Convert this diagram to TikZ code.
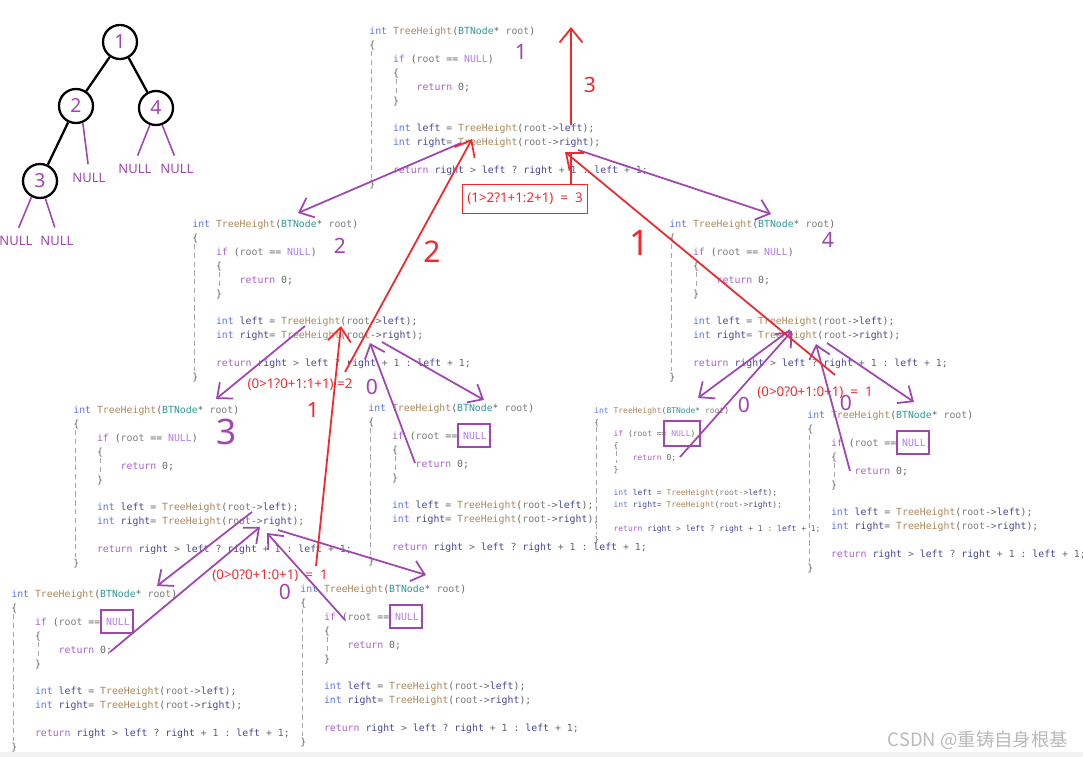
\documentclass[tikz,border=0pt]{standalone}
\usepackage{fontspec}
\setmonofont{DejaVu Sans Mono}
\newfontfamily\annfont{Noto Sans}
\newfontfamily\cjk{Noto Sans CJK SC}
\usepackage{xcolor}
\usetikzlibrary{arrows.meta,calc,positioning}

\definecolor{annpur}{RGB}{160,70,175}
\definecolor{annred}{RGB}{240,40,45}
\definecolor{kwcol}{RGB}{95,115,235}
\definecolor{fncol}{RGB}{170,135,90}
\definecolor{tycol}{RGB}{50,150,150}
\definecolor{rtcol}{RGB}{125,125,125}
\definecolor{ctlcol}{RGB}{170,95,200}
\definecolor{nullcol}{RGB}{175,125,230}
\definecolor{varcol}{RGB}{70,70,150}

% code colouring
\newcommand\cKw[1]{\textcolor{kwcol}{#1}}
\newcommand\cFn[1]{\textcolor{fncol}{#1}}
\newcommand\cTy[1]{\textcolor{tycol}{#1}}
\newcommand\cRt[1]{\textcolor{rtcol}{#1}}
\newcommand\cCtl[1]{\textcolor{ctlcol}{#1}}
\newcommand\cNull[1]{\textcolor{nullcol}{#1}}
\newcommand\cVar[1]{\textcolor{varcol}{#1}}
\newcommand\ind{\hspace*{2.408em}}
\newcommand\treecode{%
\cKw{int} \cFn{TreeHeight}(\cTy{BTNode}* \cRt{root})\\
\{\\
\ind\cCtl{if} (\cRt{root} == \cNull{NULL})\\
\ind\{\\
\ind\ind\cCtl{return} 0;\\
\ind\}\\
\mbox{}\\
\ind\cKw{int} \cVar{left} = \cFn{TreeHeight}(\cRt{root}->\cVar{left});\\
\ind\cKw{int} \cVar{right}= \cFn{TreeHeight}(\cRt{root}->\cVar{right});\\
\mbox{}\\
\ind\cCtl{return} \cVar{right} > \cVar{left} ? \cVar{right} + 1 : \cVar{left} + 1;\\
\}}

\begin{document}
\begin{tikzpicture}[
    x=0.02cm,y=-0.02cm,
    code/.style={anchor=north west,inner sep=0pt,align=left,text=black!60,
                 font=\ttfamily\fontsize{5.6}{7.9}\selectfont},
    codesmall/.style={code,font=\ttfamily\fontsize{4.55}{6.7}\selectfont},
    guide/.style={gray!70,densely dashed,line width=0.4pt},
    nullbox/.style={draw=annpur,line width=1pt},
    treenode/.style={circle,draw,line width=1.3pt,minimum size=0.68cm,inner sep=0pt,
                     text=annpur,font=\annfont\fontsize{11}{11}\selectfont},
    treeedge/.style={line width=1.3pt},
    nulltxt/.style={text=annpur,inner sep=1pt,font=\annfont\fontsize{7.4}{8}\selectfont},
    nullline/.style={annpur,line width=0.9pt,shorten >=4pt},
    callarr/.style={annpur,line width=1pt,-{Straight Barb[length=7pt,width=12pt]}},
    retarr/.style={annred,line width=1pt,-{Straight Barb[length=8pt,width=13pt]}},
    retline/.style={annred,line width=1pt},
    redtxt/.style={text=annred,inner sep=1pt,font=\annfont\fontsize{7.6}{8}\selectfont},
    redbox/.style={redtxt,draw=annred,line width=1pt,minimum width=2.5cm,minimum height=0.58cm},
    handS/.style={inner sep=0pt,font=\annfont\fontsize{12}{12}\selectfont},
    handM/.style={inner sep=0pt,font=\annfont\fontsize{17}{17}\selectfont},
    handL/.style={inner sep=0pt,font=\annfont\fontsize{20}{20}\selectfont}
]
\useasboundingbox (0,0) rectangle (1083,757);
\fill[gray!10] (0,752) rectangle (1083,757);

% the tree
\node[treenode] (n1) at (120,42) {1};
\node[treenode] (n2) at (76,106) {2};
\node[treenode] (n4) at (156,108) {4};
\node[treenode] (n3) at (40,181) {3};
\draw[treeedge] (n1) -- (n2);
\draw[treeedge] (n1) -- (n4);
\draw[treeedge] (n2) -- (n3);
\node[nulltxt] (null2r) at (89,178) {NULL};
\node[nulltxt] (null4l) at (135,169) {NULL};
\node[nulltxt] (null4r) at (177,169) {NULL};
\node[nulltxt] (null3l) at (16,241) {NULL};
\node[nulltxt] (null3r) at (57,241) {NULL};
\draw[nullline] (n2.292) -- (null2r.north);
\draw[nullline] (n4.250) -- (null4l.north);
\draw[nullline] (n4.290) -- (null4r.north);
\draw[nullline] (n3.242) -- (null3l.north);
\draw[nullline] (n3.287) -- (null3r.north);

% one code block per call
\node[code] (c1) at (369,27) {\treecode};
\node[code] (c2) at (192,220) {\treecode};
\node[code] (c4) at (669,220) {\treecode};
\node[code] (c3) at (73,406) {\treecode};
\node[code] (c2r) at (368,404) {\treecode};
\node[codesmall] (c4l) at (594,407) {\treecode};
\node[code] (c4r) at (807,411) {\treecode};
\node[code] (c3l) at (11,590) {\treecode};
\node[code] (c3r) at (300,585) {\treecode};

\foreach \c in {c1,c2,c4,c3,c2r,c4r,c3l,c3r} {
  \draw[guide] ($(\c.north west)+(2.5,24)$) -- ($(\c.north west)+(2.5,151)$);
  \draw[guide] ($(\c.north west)+(27,52)$) -- ($(\c.north west)+(27,68)$);
  }
\draw[guide] ($(c4l.north west)+(2,20)$) -- ($(c4l.north west)+(2,127)$);
\draw[guide] ($(c4l.north west)+(22,44)$) -- ($(c4l.north west)+(22,56)$);

% NULL reached
\foreach \c in {c2r,c4r,c3l,c3r}
  \draw[nullbox] ($(\c.north west)+(90,20)$) rectangle ($(\c.north west)+(122,43)$);
\draw[nullbox] ($(c4l.north west)+(70,14)$) rectangle ($(c4l.north west)+(106,39)$);

% calls
\coordinate (c1lsrc) at (461,143);  \coordinate (c2top) at (298,213);
\coordinate (c1rsrc) at (578,150);  \coordinate (c4top) at (771,214);
\coordinate (c2lsrc) at (305,326);  \coordinate (c3top) at (216,399);
\coordinate (c2rsrc) at (382,342);  \coordinate (c2rtop) at (484,400);
\coordinate (c2rret) at (415,463);  \coordinate (c2rcall) at (370,343);
\coordinate (c4lsrc) at (790,330);  \coordinate (c4ltop) at (698,398);
\coordinate (c4rsrc) at (827,343);  \coordinate (c4rtop) at (914,402);
\coordinate (c4lret) at (680,457);  \coordinate (c4lcall) at (792,331);
\coordinate (c4rret) at (850,471);  \coordinate (c4rcall) at (816,344);
\coordinate (c3lsrc) at (252,512);  \coordinate (c3ltop) at (157,586);
\coordinate (c3lret) at (110,652);  \coordinate (c3lcall) at (260,527);
\coordinate (c3rsrc) at (278,530);  \coordinate (c3rtop) at (426,575);
\coordinate (c3rret) at (345,620);  \coordinate (c3rcall) at (267,533);

\draw[callarr] (c1lsrc) -- (c2top);
\draw[callarr] (c1rsrc) -- (c4top);
\draw[callarr] (c2lsrc) -- (c3top);
\draw[callarr] (c2rsrc) -- (c2rtop);
\draw[callarr] (c2rret) -- (c2rcall);
\draw[callarr] (c4lsrc) -- (c4ltop);
\draw[callarr] (c4rsrc) -- (c4rtop);
\draw[callarr] (c4lret) -- (c4lcall);
\draw[callarr] (c4rret) -- (c4rcall);
\draw[callarr] (c3lsrc) -- (c3ltop);
\draw[callarr] (c3lret) -- (c3lcall);
\draw[callarr] (c3rsrc) -- (c3rtop);
\draw[callarr] (c3rret) -- (c3rcall);

% returned heights
\node[redbox] (calc1) at (525,199) {(1>2?1+1:2+1)~~=~~3};
\node[redtxt] (calc2) at (300,385) {(0>1?0+1:1+1) =2};
\node[redtxt] (calc3) at (270,576) {(0>0?0+1:0+1)~~=~~1};
\node[redtxt] (calc4) at (815,393) {(0>0?0+1:0+1)~~=~~1};

\coordinate (c1lcall) at (472,139);
\coordinate (c1rcall) at (565,152);
\coordinate (c1mid) at (571,125);
\coordinate (c1top) at (571,27);
\coordinate (c4ret) at (835,375);
\coordinate (c2ret) at (345,372);
\coordinate (c3ret) at (316,566);
\coordinate (c2lcall) at (341,326);

\draw[retarr] (c4ret) -- (c1rcall);
\draw[retline] (calc1.north -| c1top) -- (c1rcall -| c1top);
\draw[retarr] (c1mid) -- (c1top);
\draw[retarr] (c2ret) -- (c1lcall);
\draw[retarr] (c3ret) -- (c2lcall);

% hand written marks
\node[handS,text=annpur] (mk1) at (521,52) {1};
\node[handS,text=annpur] (mk2) at (340,246) {2};
\node[handS,text=annpur] (mk4) at (828,240) {4};
\node[handL,text=annpur] (mk3) at (227,432) {3};
\node[handS,text=annpur] (mk0a) at (372,387) {0};
\node[handS,text=annpur] (mk0b) at (744,405) {0};
\node[handS,text=annpur] (mk0c) at (846,403) {0};
\node[handS,text=annpur] (mk0d) at (285,592) {0};
\node[handS,text=annred] (rk3) at (590,85) {3};
\node[handM,text=annred] (rk2) at (432,252) {2};
\node[handL,text=annred] (rk1a) at (640,243) {1};
\node[handS,text=annred] (rk1b) at (313,410) {1};

\node[text=gray!55,font=\cjk\fontsize{10.5}{11}\selectfont] (wm) at (978,740) {CSDN @重铸自身根基};
\end{tikzpicture}
\end{document}
